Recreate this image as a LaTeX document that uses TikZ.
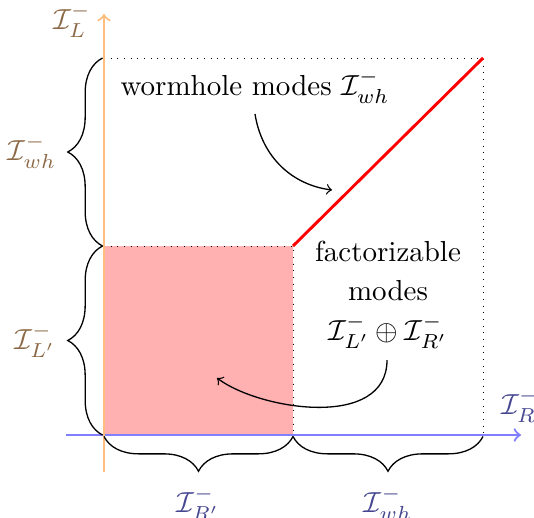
\documentclass[tikz,border=0pt]{standalone}
\usetikzlibrary{decorations.pathreplacing}
\definecolor{lblbrown}{RGB}{140,105,70}
\definecolor{lblblue}{RGB}{70,70,145}
\definecolor{axisorange}{RGB}{255,191,128}
\definecolor{axisblue}{RGB}{128,128,255}
\definecolor{factfill}{RGB}{255,176,176}
\begin{document}
\begin{tikzpicture}[x=0.345pt,y=-0.345pt,
  bracestyle/.style={decorate,decoration={brace,amplitude=12pt,raise=0.5pt},line width=0.45pt},
  dotline/.style={dotted,line width=0.3pt},
  lblL/.style={text=lblbrown,inner sep=0pt},
  lblR/.style={text=lblblue,inner sep=0pt},
  axisstyle/.style={->,line width=0.75pt},
  curvearrow/.style={->,line width=0.45pt},
  plaintext/.style={inner sep=0pt,align=center}]
\useasboundingbox (0,0) rectangle (534,517);
% key coordinates
\coordinate (O) at (104,435);
\coordinate (A) at (293,435);
\coordinate (B) at (483,435);
\coordinate (P) at (104,246);
\coordinate (Q) at (104,58);
\coordinate (C) at (293,246);
\coordinate (D) at (483,58);
\coordinate (yb) at (104,472);
\coordinate (yt) at (104,14);
\coordinate (xl) at (66,435);
\coordinate (xr) at (521,435);
% factorizable region
\fill[factfill] (O) rectangle (C);
% dotted frame lines
\draw[dotline] (P) -- (C) -- (A);
\draw[dotline] (Q) -- (D) -- (B);
% wormhole line
\draw[red,line width=1pt] (C) -- (D);
% axes
\draw[axisstyle,axisblue] (xl) -- (xr);
\draw[axisstyle,axisorange] (yb) -- (yt);
% axis labels
\node[lblL] (IL) at (72,21) {$\mathcal{I}^-_L$};
\node[lblR] (IR) at (520,406) {$\mathcal{I}^-_R$};
% braces
\draw[bracestyle] (P) -- (Q);
\draw[bracestyle] (O) -- (P);
\draw[bracestyle] (A) -- (O);
\draw[bracestyle] (B) -- (A);
\node[lblL] (Lwh) at (32,152) {$\mathcal{I}^-_{wh}$};
\node[lblL] (Lp) at (35,341) {$\mathcal{I}^-_{L'}$};
\node[lblR] (Rp) at (198,504) {$\mathcal{I}^-_{R'}$};
\node[lblR] (Rwh) at (388,504) {$\mathcal{I}^-_{wh}$};
% texts
\node[plaintext,anchor=base] (wh) at (255,95) {wormhole modes $\mathcal{I}^-_{wh}$};
\node[plaintext,anchor=base,font=\fontsize{10}{13.6}\selectfont] (fact) at (388,340)
  {factorizable\\modes\\$\mathcal{I}^-_{L'}\oplus\mathcal{I}^-_{R'}$};
% arrows
\coordinate (w1) at (255,114);
\coordinate (w2) at (332,190);
\draw[curvearrow] (w1) .. controls (262,158) and (293,185) .. (w2);
\coordinate (f1) at (387,360);
\coordinate (f2) at (217,378);
\draw[curvearrow] (f1) .. controls (387,430) and (260,410) .. (f2);
\end{tikzpicture}
\end{document}
